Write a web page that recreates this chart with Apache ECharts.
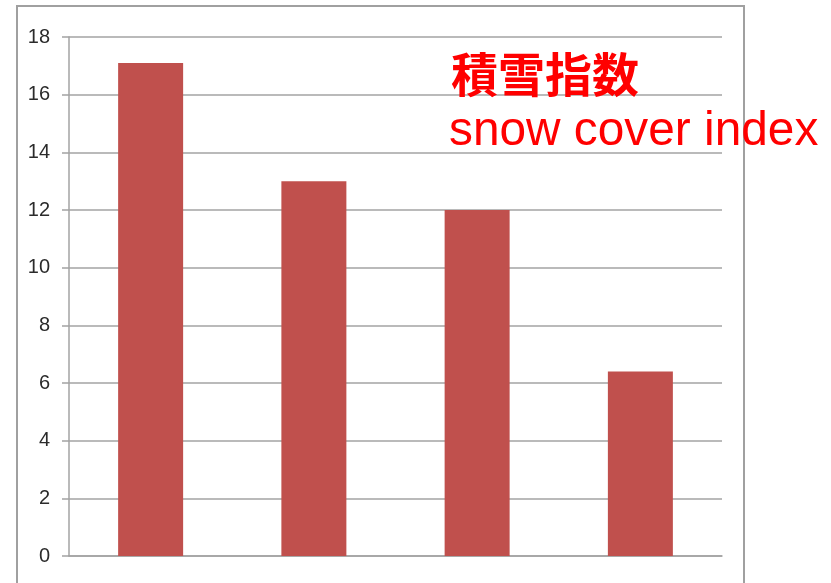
<!DOCTYPE html>
<html>
<head>
<meta charset="utf-8">
<script src="https://cdn.jsdelivr.net/npm/echarts@6/dist/echarts.min.js"></script>
<style>
  html, body { margin: 0; padding: 0; background: #ffffff; }
  #chart { width: 831px; height: 583px; }
</style>
</head>
<body>
<div id="chart"></div>
<script>
// Snow cover index per site
const categories = ['A', 'B', 'C', 'D'];
const snowIndex = [17.1, 13, 12, 6.4];
const yTicks = { min: 0, max: 18, interval: 2 };
const titleJa = '積雪指数';
const titleEn = 'snow cover index';

const chart = echarts.init(document.getElementById('chart'), null, { renderer: 'canvas' });

const gridColor = '#a3a3a3';

chart.setOption({
  animation: false,
  backgroundColor: '#ffffff',
  grid: { left: 69, right: 109, top: 37, bottom: 27, containLabel: false },
  xAxis: {
    type: 'category',
    data: categories,
    axisLine: { show: true, lineStyle: { color: gridColor, width: 1.5 } },
    axisTick: { show: false },
    axisLabel: { show: false },
    splitLine: { show: false }
  },
  yAxis: {
    type: 'value',
    min: yTicks.min,
    max: yTicks.max,
    interval: yTicks.interval,
    axisLine: { show: true, lineStyle: { color: gridColor, width: 1.5 } },
    axisTick: { show: true, length: 7, lineStyle: { color: gridColor, width: 1.5 } },
    axisLabel: {
      margin: 19,
      color: '#2b2b2b',
      fontSize: 20,
      fontFamily: 'Liberation Sans, Arial, sans-serif'
    },
    splitLine: { show: true, lineStyle: { color: gridColor, width: 1.5 } }
  },
  series: [{
    type: 'bar',
    data: snowIndex,
    barWidth: 65,
    itemStyle: { color: '#c0504d' }
  }],
  graphic: [
    {
      type: 'rect',
      z: 0,
      shape: { x: 17, y: 6, width: 727, height: 600 },
      style: { fill: 'none', stroke: '#a0a0a0', lineWidth: 2 }
    },
    {
      type: 'text',
      z: 100,
      left: 451,
      top: 51,
      style: {
        text: titleJa,
        fill: '#ff0000',
        font: 'bold 47px "Noto Sans CJK JP", sans-serif'
      }
    },
    {
      type: 'text',
      z: 100,
      left: 449,
      top: 108,
      style: {
        text: titleEn,
        fill: '#ff0000',
        font: '47.8px "Liberation Sans", Arial, sans-serif'
      }
    }
  ]
});
</script>
</body>
</html>
